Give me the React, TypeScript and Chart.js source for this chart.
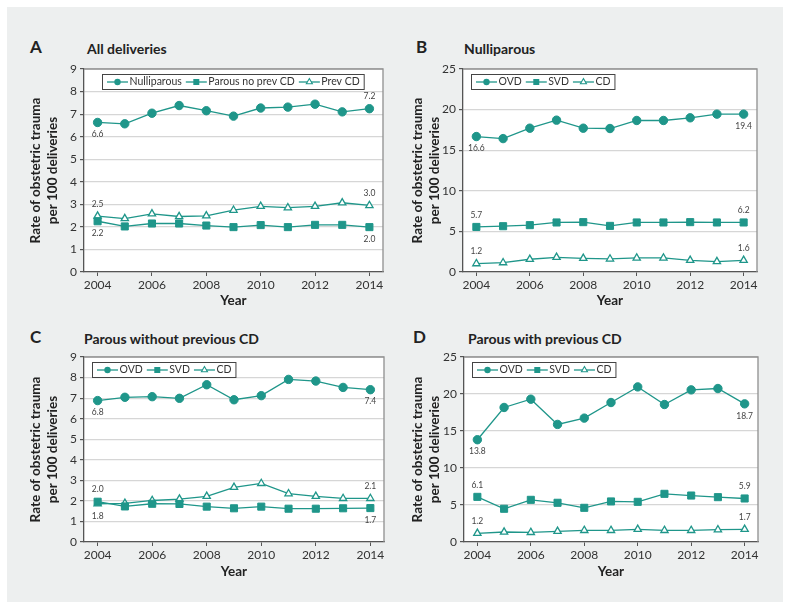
import React, { useEffect, useRef } from "react";
import { Chart, registerables } from "chart.js";

Chart.register(...registerables);

const FONT = "Lato, 'Open Sans', sans-serif";
const TEAL = "#1f968a";
const AXIS = "#555555";
const TEXT = "#333333";

// ---- data ----
const years = [2004, 2005, 2006, 2007, 2008, 2009, 2010, 2011, 2012, 2013, 2014];
const xTickYears = [2004, 2006, 2008, 2010, 2012, 2014];

const seriesNamesA = ["Nulliparous", "Parous no prev CD", "Prev CD"];
const seriesNamesBCD = ["OVD", "SVD", "CD"];
const pointStyles = ["circle", "rect", "triangle"];

// Panel A: All deliveries
const aNulliparous = [6.63, 6.57, 7.04, 7.38, 7.15, 6.91, 7.27, 7.31, 7.44, 7.1, 7.24];
const aParousNoPrevCD = [2.25, 2.02, 2.15, 2.15, 2.06, 1.99, 2.08, 1.99, 2.09, 2.09, 1.99];
const aPrevCD = [2.48, 2.37, 2.58, 2.46, 2.49, 2.74, 2.91, 2.85, 2.91, 3.07, 2.95];
const aFirstLabels = ["6.6", "2.2", "2.5"];
const aFirstPos = ["below", "below", "above"];
const aLastLabels = ["7.2", "2.0", "3.0"];
const aLastPos = ["above", "below", "above"];

// Panel B: Nulliparous
const bOVD = [16.68, 16.43, 17.71, 18.7, 17.71, 17.67, 18.66, 18.66, 18.99, 19.44, 19.44];
const bSVD = [5.55, 5.64, 5.77, 6.1, 6.14, 5.68, 6.1, 6.1, 6.14, 6.1, 6.1];
const bCD = [1.03, 1.15, 1.57, 1.81, 1.69, 1.61, 1.73, 1.73, 1.44, 1.28, 1.44];
const bFirstLabels = ["16.6", "5.7", "1.2"];
const bFirstPos = ["below", "above", "above"];
const bLastLabels = ["19.4", "6.2", "1.6"];
const bLastPos = ["below", "above", "above"];

// Panel C: Parous without previous CD
const cOVD = [6.88, 7.04, 7.07, 6.99, 7.65, 6.92, 7.12, 7.91, 7.83, 7.52, 7.41];
const cSVD = [1.96, 1.73, 1.86, 1.85, 1.72, 1.64, 1.72, 1.62, 1.62, 1.64, 1.65];
const cCD = [1.86, 1.88, 2.02, 2.09, 2.22, 2.66, 2.85, 2.35, 2.22, 2.12, 2.12];
const cFirstLabels = ["6.8", "2.0", "1.8"];
const cFirstPos = ["below", "above", "below"];
const cLastLabels = ["7.4", "1.7", "2.1"];
const cLastPos = ["below", "below", "above"];

// Panel D: Parous with previous CD
const dOVD = [13.82, 18.18, 19.3, 15.89, 16.74, 18.85, 20.96, 18.58, 20.56, 20.74, 18.67];
const dSVD = [6.1, 4.49, 5.7, 5.3, 4.62, 5.48, 5.43, 6.51, 6.28, 6.06, 5.88];
const dCD = [1.17, 1.35, 1.3, 1.44, 1.57, 1.57, 1.71, 1.57, 1.57, 1.66, 1.71];
const dFirstLabels = ["13.8", "6.1", "1.2"];
const dFirstPos = ["below", "above", "above"];
const dLastLabels = ["18.7", "5.9", "1.7"];
const dLastPos = ["below", "above", "above"];

// ---- plugins ----
const framePlugin = {
  id: "frame",
  beforeDraw(chart: any) {
    const { ctx, chartArea: a } = chart;
    ctx.save();
    ctx.fillStyle = "#ffffff";
    ctx.fillRect(a.left, a.top, a.right - a.left, a.bottom - a.top);
    ctx.restore();
  },
  beforeDatasetsDraw(chart: any) {
    const { ctx, chartArea: a } = chart;
    ctx.save();
    ctx.strokeStyle = "#8f8f8f";
    ctx.lineWidth = 1.3;
    ctx.beginPath();
    ctx.moveTo(a.left, a.top);
    ctx.lineTo(a.right, a.top);
    ctx.lineTo(a.right, a.bottom);
    ctx.stroke();
    ctx.restore();
  },
};

function drawMarker(ctx: any, style: string, x: number, y: number, r: number) {
  ctx.beginPath();
  if (style === "circle") {
    ctx.arc(x, y, r, 0, Math.PI * 2);
    ctx.fillStyle = TEAL;
    ctx.fill();
  } else if (style === "rect") {
    ctx.rect(x - r, y - r, 2 * r, 2 * r);
    ctx.fillStyle = TEAL;
    ctx.fill();
  } else {
    ctx.moveTo(x, y - r);
    ctx.lineTo(x + r * 0.866, y + r * 0.5);
    ctx.lineTo(x - r * 0.866, y + r * 0.5);
    ctx.closePath();
    ctx.fillStyle = "#ffffff";
    ctx.fill();
    ctx.strokeStyle = TEAL;
    ctx.lineWidth = 1.1;
    ctx.stroke();
  }
}

const boxLegendPlugin = {
  id: "boxLegend",
  afterDatasetsDraw(chart: any, _args: any, opts: any) {
    const { ctx, chartArea: a } = chart;
    const dss = chart.data.datasets;
    ctx.save();
    ctx.font = `10.5px ${FONT}`;
    const x0 = a.left + (opts.offsetX ?? 8);
    const y0 = a.top + 5;
    const h = 15;
    const padL = 5, lineW = 21, gap = 1.5, itemGap = 4, padR = 4;
    let w = padL;
    dss.forEach((ds: any, i: number) => {
      w += lineW + gap + ctx.measureText(ds.label).width + (i < dss.length - 1 ? itemGap : 0);
    });
    w += padR;
    ctx.fillStyle = "#ffffff";
    ctx.fillRect(x0, y0, w, h);
    ctx.strokeStyle = "#444";
    ctx.lineWidth = 1;
    ctx.strokeRect(x0 + 0.5, y0 + 0.5, w, h);
    let x = x0 + padL;
    const cy = y0 + h / 2 + 0.5;
    dss.forEach((ds: any) => {
      ctx.strokeStyle = TEAL;
      ctx.lineWidth = 1.3;
      ctx.beginPath();
      ctx.moveTo(x, cy);
      ctx.lineTo(x + lineW, cy);
      ctx.stroke();
      const st = ds.pointStyle;
      drawMarker(ctx, st, x + lineW / 2, cy, st === "rect" ? 3 : st === "circle" ? 3.2 : 3.5);
      x += lineW + gap;
      ctx.fillStyle = TEXT;
      ctx.textAlign = "left";
      ctx.textBaseline = "middle";
      ctx.fillText(ds.label, x, cy);
      x += ctx.measureText(ds.label).width + itemGap;
    });
    ctx.restore();
  },
};

const endLabelsPlugin = {
  id: "endLabels",
  afterDatasetsDraw(chart: any) {
    const { ctx } = chart;
    ctx.save();
    ctx.font = `8.5px ${FONT}`;
    ctx.fillStyle = "#444";
    ctx.textAlign = "center";
    ctx.textBaseline = "middle";
    chart.data.datasets.forEach((ds: any, i: number) => {
      const pts = chart.getDatasetMeta(i).data;
      const f = pts[0];
      const l = pts[pts.length - 1];
      ctx.fillText(ds.firstLabel, f.x, f.y + (ds.firstPos === "above" ? -12 : 12));
      ctx.fillText(ds.lastLabel, l.x, l.y + (ds.lastPos === "above" ? -12 : 12));
    });
    ctx.restore();
  },
};

// ---- panels ----
type PanelCfg = {
  left: number;
  top: number;
  w: number;
  h: number;
  yWidth: number;
  xHeight: number;
  padTop: number;
  padRight: number;
  yMax: number;
  yStep: number;
  legendOffset: number;
  names: string[];
  series: number[][];
  firstLabels: string[];
  firstPos: string[];
  lastLabels: string[];
  lastPos: string[];
};

function buildDatasets(c: PanelCfg) {
  return c.series.map((vals, i) => {
    const st = pointStyles[i];
    return {
      label: c.names[i],
      data: years.map((yr, j) => ({ x: yr, y: vals[j] })),
      borderColor: TEAL,
      borderWidth: 1.3,
      pointStyle: st,
      pointRadius: st === "circle" ? 4.2 : st === "rect" ? 5 : 4.2,
      pointBorderWidth: st === "triangle" ? 1.3 : 1,
      pointBackgroundColor: st === "triangle" ? "#ffffff" : TEAL,
      pointBorderColor: TEAL,
      tension: 0,
      firstLabel: c.firstLabels[i],
      firstPos: c.firstPos[i],
      lastLabel: c.lastLabels[i],
      lastPos: c.lastPos[i],
    };
  });
}

function Panel({ c }: { c: PanelCfg }) {
  const ref = useRef<HTMLCanvasElement>(null);
  useEffect(() => {
    const chart = new Chart(ref.current as HTMLCanvasElement, {
      type: "line",
      data: { datasets: buildDatasets(c) as any },
      options: {
        animation: false,
        responsive: false,
        events: [],
        layout: { padding: { left: 0, top: c.padTop, right: c.padRight, bottom: 0 } },
        plugins: {
          legend: { display: false },
          tooltip: { enabled: false },
          boxLegend: { offsetX: c.legendOffset },
        } as any,
        scales: {
          x: {
            type: "linear",
            min: 2003.5,
            max: 2014.5,
            afterBuildTicks: (s: any) => {
              s.ticks = xTickYears.map((v) => ({ value: v }));
            },
            afterFit: (s: any) => {
              s.height = c.xHeight;
            },
            grid: { drawOnChartArea: false, drawTicks: true, tickLength: 4, tickColor: AXIS, color: AXIS },
            border: { color: AXIS, width: 1.3 },
            ticks: {
              callback: (v: any) => String(v),
              color: TEXT,
              font: { family: FONT, size: 12 },
              padding: 2,
              maxRotation: 0,
              autoSkip: false,
            },
            title: {
              display: true,
              text: "Year",
              color: "#222",
              font: { family: FONT, size: 13.5, weight: "bold" },
              padding: { top: 0, bottom: 0 },
            },
          },
          y: {
            min: 0,
            max: c.yMax,
            afterFit: (s: any) => {
              s.width = c.yWidth;
            },
            grid: { color: "#d6d6d6", lineWidth: 1.2, tickLength: 4, tickColor: AXIS },
            border: { color: AXIS, width: 1.3 },
            ticks: {
              stepSize: c.yStep,
              color: TEXT,
              font: { family: FONT, size: 12 },
              padding: 3,
            },
            title: {
              display: true,
              text: ["Rate of obstetric trauma", "per 100 deliveries"],
              color: "#222",
              font: { family: FONT, size: 13.5, weight: "bold", lineHeight: 1.26 },
              padding: { top: 17.5, bottom: 0 },
            },
          },
        } as any,
      },
      plugins: [framePlugin, boxLegendPlugin, endLabelsPlugin] as any,
    });
    return () => chart.destroy();
  }, []);
  return (
    <canvas
      ref={ref}
      width={c.w}
      height={c.h}
      style={{ position: "absolute", left: c.left, top: c.top, width: c.w, height: c.h }}
    />
  );
}

const panelA: PanelCfg = {
  left: 10, top: 58, w: 380, h: 251, yWidth: 74, xHeight: 37, padTop: 11, padRight: 7,
  yMax: 9, yStep: 1, legendOffset: 18, names: seriesNamesA,
  series: [aNulliparous, aParousNoPrevCD, aPrevCD],
  firstLabels: aFirstLabels, firstPos: aFirstPos, lastLabels: aLastLabels, lastPos: aLastPos,
};
const panelB: PanelCfg = {
  left: 392, top: 58, w: 372, h: 251, yWidth: 71, xHeight: 37, padTop: 11, padRight: 7,
  yMax: 25, yStep: 5, legendOffset: 8, names: seriesNamesBCD,
  series: [bOVD, bSVD, bCD],
  firstLabels: bFirstLabels, firstPos: bFirstPos, lastLabels: bLastLabels, lastPos: bLastPos,
};
const panelC: PanelCfg = {
  left: 10, top: 346, w: 380, h: 234, yWidth: 74, xHeight: 38, padTop: 11, padRight: 6,
  yMax: 9, yStep: 1, legendOffset: 8, names: seriesNamesBCD,
  series: [cOVD, cSVD, cCD],
  firstLabels: cFirstLabels, firstPos: cFirstPos, lastLabels: cLastLabels, lastPos: cLastPos,
};
const panelD: PanelCfg = {
  left: 392, top: 346, w: 373, h: 234, yWidth: 72, xHeight: 38, padTop: 11, padRight: 7,
  yMax: 25, yStep: 5, legendOffset: 8, names: seriesNamesBCD,
  series: [dOVD, dSVD, dCD],
  firstLabels: dFirstLabels, firstPos: dFirstPos, lastLabels: dLastLabels, lastPos: dLastPos,
};

const letterStyle = (left: number, top: number): React.CSSProperties => ({
  position: "absolute",
  left,
  top,
  fontFamily: FONT,
  fontWeight: 700,
  fontSize: 17,
  lineHeight: "17px",
  color: "#222",
  whiteSpace: "nowrap",
});
const titleStyle = (left: number, top: number): React.CSSProperties => ({
  position: "absolute",
  left,
  top,
  fontFamily: FONT,
  fontWeight: 700,
  fontSize: 14,
  lineHeight: "14px",
  color: "#222",
  whiteSpace: "nowrap",
});

export default function App() {
  return (
    <div style={{ position: "absolute", left: 0, top: 0, width: 791, height: 610, background: "#ffffff" }}>
      <div style={{ position: "absolute", left: 7, top: 7, width: 776, height: 595, background: "#edefef" }} />
      <div style={letterStyle(30, 38)}>A</div>
      <div style={titleStyle(87, 42)}>All deliveries</div>
      <div style={letterStyle(416, 38)}>B</div>
      <div style={titleStyle(464, 42)}>Nulliparous</div>
      <div style={letterStyle(30, 328)}>C</div>
      <div style={titleStyle(84, 332)}>Parous without previous CD</div>
      <div style={letterStyle(413, 328)}>D</div>
      <div style={titleStyle(468, 332)}>Parous with previous CD</div>
      <Panel c={panelA} />
      <Panel c={panelB} />
      <Panel c={panelC} />
      <Panel c={panelD} />
    </div>
  );
}
